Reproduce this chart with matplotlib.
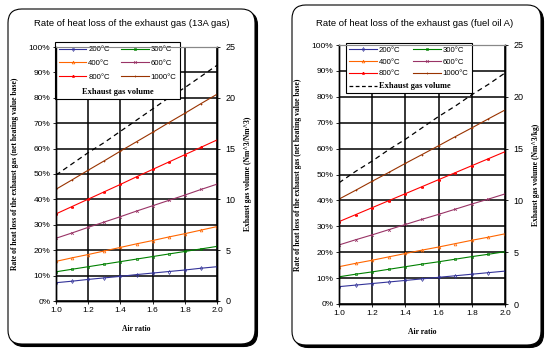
import numpy as np
import matplotlib
matplotlib.use("Agg")
import matplotlib.pyplot as plt
from matplotlib.patches import FancyBboxPatch
from matplotlib.lines import Line2D
from matplotlib.offsetbox import HPacker, DrawingArea, TextArea
from matplotlib.ticker import FuncFormatter

plt.rcParams["font.family"] = "Liberation Sans"
plt.rcParams["font.size"] = 6

# -----------------------------
# Data
# -----------------------------
air_ratio = [1.0, 1.1, 1.2, 1.3, 1.4, 1.5, 1.6, 1.7, 1.8, 1.9, 2.0]
temps = ["200°C", "300°C", "400°C", "600°C", "800°C", "1000°C"]

# 13A gas, heat loss [%]
gas_200 = [7.2, 7.8, 8.5, 9.1, 9.7, 10.4, 11.0, 11.6, 12.2, 12.9, 13.5]
gas_300 = [11.5, 12.5, 13.5, 14.5, 15.5, 16.5, 17.5, 18.5, 19.5, 20.5, 21.5]
gas_400 = [15.6, 17.0, 18.3, 19.7, 21.1, 22.5, 23.8, 25.2, 26.5, 27.9, 29.3]
gas_600 = [24.7, 26.8, 29.0, 31.1, 33.2, 35.4, 37.5, 39.6, 41.7, 43.9, 46.0]
gas_800 = [34.3, 37.2, 40.1, 43.0, 45.9, 48.9, 51.8, 54.7, 57.6, 60.5, 63.4]
gas_1000 = [44.0, 47.7, 51.5, 55.2, 59.0, 62.7, 66.4, 70.2, 73.9, 77.7, 81.4]
gas_volume = [12.4, 13.5, 14.6, 15.6, 16.7, 17.8, 18.9, 20.0, 21.0, 22.1, 23.2]

# fuel oil A, heat loss [%]
oil_200 = [6.7, 7.3, 7.9, 8.5, 9.1, 9.7, 10.3, 10.9, 11.5, 12.1, 12.7]
oil_300 = [10.5, 11.5, 12.4, 13.4, 14.4, 15.4, 16.3, 17.3, 18.3, 19.2, 20.2]
oil_400 = [14.4, 15.7, 16.9, 18.2, 19.5, 20.8, 22.0, 23.3, 24.6, 25.8, 27.1]
oil_600 = [22.8, 24.8, 26.7, 28.7, 30.7, 32.7, 34.6, 36.6, 38.6, 40.5, 42.5]
oil_800 = [31.8, 34.5, 37.2, 39.9, 42.6, 45.3, 48.0, 50.7, 53.4, 56.1, 58.8]
oil_1000 = [40.5, 43.9, 47.4, 50.8, 54.3, 57.7, 61.1, 64.6, 68.0, 71.5, 74.9]
oil_volume = [11.7, 12.8, 13.8, 14.9, 15.9, 17.0, 18.1, 19.1, 20.2, 21.2, 22.3]

colors = ["#333399", "#008000", "#FF6600", "#993366", "#FF0000", "#993300"]
markers = ["d", "s", "^", "x", "*", "+"]

W, H = 551, 356
fig = plt.figure(figsize=(W/100, H/100), dpi=100)


def panel_frame(x0, y0, x1, y1):
    # rounded frame with a dark shadow on right / bottom
    kw = dict(boxstyle="round,pad=0,rounding_size=0.025", transform=fig.transFigure,
              mutation_aspect=W/H)
    sh = FancyBboxPatch((x0/W + 2.5/W, 1 - y1/H - 2.5/H), (x1 - x0)/W, (y1 - y0)/H,
                        fc="black", ec="black", lw=0.8, **kw)
    fr = FancyBboxPatch((x0/W, 1 - y1/H), (x1 - x0)/W, (y1 - y0)/H,
                        fc="white", ec="black", lw=0.8, **kw)
    fig.patches.extend([sh, fr])


panel_frame(8, 9, 255, 344)
panel_frame(292, 5, 541, 345)

LEG_FS = 5.6


def make_chart(rect, series, volume, title, vol_label, title_pos, leg_anchor, oil):
    ax = fig.add_axes(rect)
    ax.set_zorder(2)
    ax.patch.set_visible(False)
    ax2 = ax.twinx()

    handles = []
    for vals, c, m, lab in zip(series, colors, markers, temps):
        h, = ax.plot(air_ratio, vals, color=c, lw=0.8, marker=m, ms=2.0,
                     mfc="none", mec=c, mew=0.5, label=lab)
        handles.append(h)
    ax.plot(air_ratio, np.array(volume) * 4, color="black", lw=0.9,
            ls=(0, (4, 3)), label="Exhaust gas volume")

    ax.set_xlim(1.0, 2.0)
    ax.set_ylim(0, 100)
    ax.set_xticks([1.0, 1.2, 1.4, 1.6, 1.8, 2.0])
    ax.set_yticks(np.arange(0, 101, 10))
    ax.yaxis.set_major_formatter(FuncFormatter(lambda v, p: f"{v:.0f}%"))
    ax.grid(True, color="black", lw=1.1)
    ax.set_axisbelow(True)
    ax.tick_params(length=2, width=0.6, pad=2, labelsize=6)

    ax2.set_ylim(0, 25)
    ax2.set_yticks(np.arange(0, 26, 5))
    ax2.tick_params(length=2, width=0.6, pad=4, labelsize=6.5)

    for a in (ax, ax2):
        a.spines["top"].set_color("#888888")
        for s in ("left", "right", "bottom"):
            a.spines[s].set_color("black")
            a.spines[s].set_linewidth(1.0)

    serif = dict(family="Liberation Serif", size=5.5, weight="bold")
    ax.set_ylabel("Rate of heat loss of the exhaust gas (net heating value base)",
                  fontdict=serif, labelpad=7)
    ax2.set_ylabel(vol_label, fontdict=serif, labelpad=6)
    ax.set_xlabel("Air ratio", fontdict=serif, labelpad=8)

    fig.text(title_pos[0]/W, 1 - title_pos[1]/H, title, ha="center", va="center",
             fontsize=6.8)

    order = [0, 2, 4, 1, 3, 5]
    hs = [handles[i] for i in order]
    leg = ax.legend(handles=hs, labels=[h.get_label() for h in hs], ncol=2,
                    loc="upper left", bbox_to_anchor=leg_anchor, borderaxespad=0,
                    fontsize=LEG_FS, handlelength=3.5, handletextpad=0.25,
                    columnspacing=1.5 if not oil else 1.7,
                    labelspacing=0.8 if not oil else 0.55,
                    fancybox=False, framealpha=1, edgecolor="black",
                    borderpad=0.5 if not oil else 0.45)
    leg.get_frame().set_linewidth(0.8)

    # bottom row of the legend: exhaust gas volume entry
    txt = TextArea("Exhaust gas volume", textprops=dict(fontproperties=dict(serif, size=6)))
    if oil:
        hl = 3.5 * LEG_FS
        da = DrawingArea(hl, LEG_FS, 0, 0)
        da.add_artist(Line2D([0, hl], [LEG_FS * 0.4, LEG_FS * 0.4], color="black",
                             lw=0.9, ls=(0, (3, 2))))
        row = HPacker(children=[da, txt], align="center", pad=0, sep=0.25 * LEG_FS)
    else:
        row = txt
    row.set_figure(fig)
    box = leg._legend_box
    box._children = [leg._legend_handle_box, row]
    box.align = "left" if oil else "center"
    box.sep = (0.55 if oil else 0.9) * LEG_FS
    return ax, ax2


make_chart([56/W, 1 - 301/H, 161/W, 254/H],
           [gas_200, gas_300, gas_400, gas_600, gas_800, gas_1000], gas_volume,
           "Rate of heat loss of the exhaust gas (13A gas)",
           "Exhaust gas volume (Nm^3/Nm^3)", (132, 23), (-0.005, 1.02), False)
make_chart([339/W, 1 - 304/H, 166/W, 259/H],
           [oil_200, oil_300, oil_400, oil_600, oil_800, oil_1000], oil_volume,
           "Rate of heat loss of the exhaust gas (fuel oil A)",
           "Exhaust gas volume (Nm^3/kg)", (415, 23), (0.042, 1.008), True)

fig.savefig("out.png", dpi=100)
